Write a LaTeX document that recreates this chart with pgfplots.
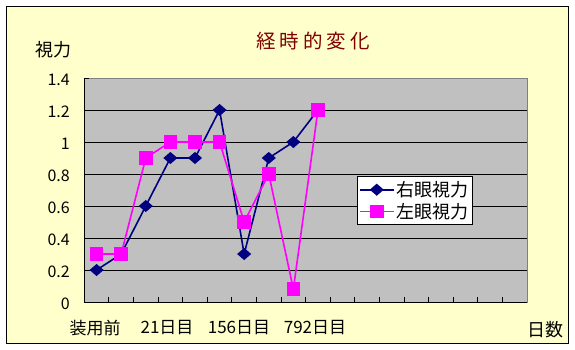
\documentclass[border=0pt]{standalone}
\usepackage{fontspec}
\usepackage{pgfplots}
\pgfplotsset{compat=1.18}
\setmainfont{Noto Sans CJK JP}
\definecolor{cream}{HTML}{FFFFCC}
\definecolor{navyblue}{HTML}{000080}
\definecolor{titlered}{HTML}{800000}
\definecolor{plotgray}{HTML}{C0C0C0}
\definecolor{pinkm}{HTML}{FF00FF}
\begin{document}
\begin{tikzpicture}[x=1pt,y=1pt]
\useasboundingbox (0,0) rectangle (575,349);
\fill[white] (0,0) rectangle (575,349);
\draw[black, line width=1pt, fill=cream] (6.5,342.5) rectangle (568,6);
\begin{axis}[
  at={(84.3pt,47pt)}, anchor=south west,
  width=442.7pt, height=224pt, scale only axis,
  xmin=0.5, xmax=18.5, ymin=0, ymax=1.4,
  axis background/.style={fill=plotgray},
  axis line style={draw=gray, line width=0.8pt},
  ytick={0,0.2,0.4,0.6,0.8,1,1.2},
  yticklabels={0,0.2,0.4,0.6,0.8,1,1.2},
  extra y ticks={1.4}, extra y tick labels={1.4},
  extra y tick style={grid=none},
  ymajorgrids,
  major grid style={black, line width=0.8pt},
  xtick={0.5,1.5,...,18.5}, xticklabels={},
  xtick pos=bottom, ytick pos=left,
  tick align=inside, major tick length=5pt,
  tick style={black, line width=0.8pt},
  /pgf/number format/assume math mode=true,
  yticklabel style={font=\fontsize{16pt}{16pt}\selectfont, xshift=-11pt, yshift=-2pt},
  legend style={at={(axis description cs:0.615,0.5625)}, anchor=north west,
    draw=black, fill=white, line width=0.8pt,
    font=\fontsize{18pt}{18pt}\selectfont,
    inner xsep=2pt, inner ysep=3pt, row sep=1pt, cells={anchor=west}},
  legend image code/.code={\draw[mark repeat=2,mark phase=2,#1] plot coordinates {(0pt,0pt)(17pt,0pt)(34pt,0pt)};},
  clip=false,
]
\addplot[navyblue, line width=1.6pt, mark=diamond*, mark size=5pt,
  mark options={fill=navyblue, solid, xscale=1.55}]
  coordinates {(1,0.2)(2,0.3)(3,0.6)(4,0.9)(5,0.9)(6,1.2)(7,0.3)(8,0.9)(9,1.0)(10,1.2)};
\addlegendentry{右眼視力}
\addplot[pinkm, line width=1.6pt, mark=square*, mark size=6pt,
  mark options={fill=pinkm, solid}]
  coordinates {(1,0.3)(2,0.3)(3,0.9)(4,1.0)(5,1.0)(6,1.0)(7,0.5)(8,0.8)(9,0.08)(10,1.2)};
\addlegendentry{左眼視力}
\draw[black, line width=1pt] (rel axis cs:0,1) -- (rel axis cs:0,0) -- (rel axis cs:1,0);
\end{axis}
\node[text=titlered, font=\fontsize{19.5pt}{19.5pt}\selectfont] at (313,349-41) {経\hspace{4pt}時\hspace{4pt}的\hspace{4pt}変\hspace{4pt}化};
\node[font=\fontsize{18pt}{18pt}\selectfont] at (53,349-50) {視力};
\node[font=\fontsize{18pt}{18pt}\selectfont] at (545.5,349-330) {日数};
\node[font=\fontsize{17pt}{17pt}\selectfont] at (95,349-328) {装用前};
\node[font=\fontsize{17pt}{17pt}\selectfont] at (167,349-328) {21日目};
\node[font=\fontsize{17pt}{17pt}\selectfont] at (239,349-328) {156日目};
\node[font=\fontsize{17pt}{17pt}\selectfont] at (315,349-328) {792日目};
\end{tikzpicture}
\end{document}
